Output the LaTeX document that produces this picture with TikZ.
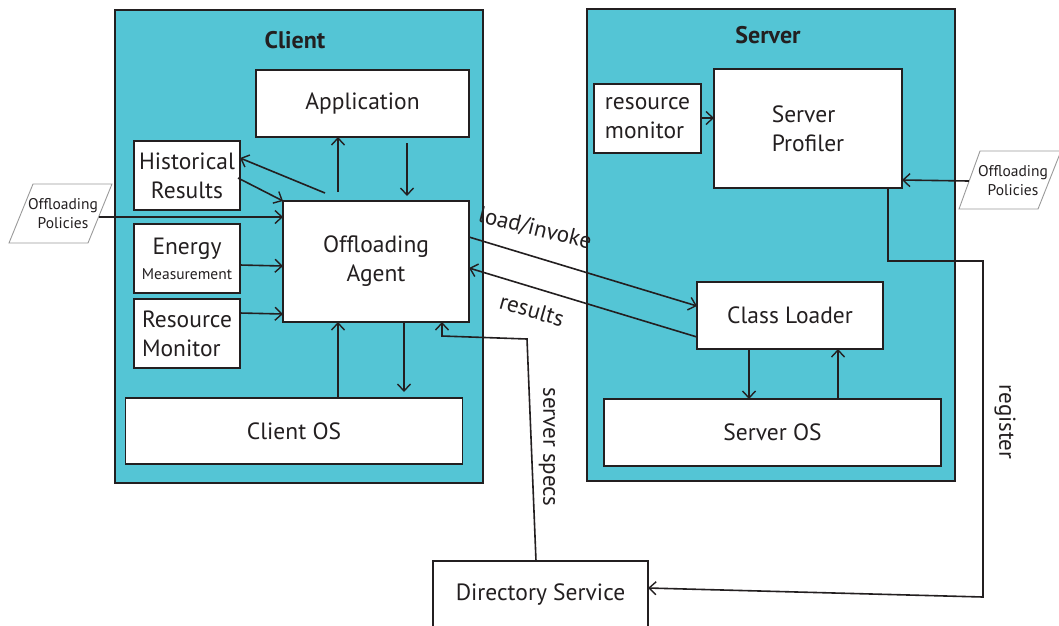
\documentclass[tikz,border=0pt]{standalone}
\usepackage{fontspec}
\setmainfont{PT Sans}
\usetikzlibrary{arrows.meta}
\definecolor{panel}{HTML}{54C5D5}
\definecolor{ink}{HTML}{231F20}
\definecolor{framegray}{HTML}{9A9A9A}

\begin{document}
\begin{tikzpicture}[x=1pt,y=-1pt,
  every node/.style={text=ink},
  panelbox/.style={draw=ink, fill=panel, line width=1.6pt, inner sep=0pt, outer sep=0pt},
  unit/.style={draw=ink, fill=white, line width=1.6pt, inner sep=0pt, outer sep=0pt,
               align=center, font=\fontsize{23.5}{29}\selectfont},
  flow/.style={draw=ink, line width=1.6pt,
               -{Straight Barb[length=7pt,width=13pt,line width=1.4pt]}},
  policyframe/.style={draw=framegray, line width=0.9pt, fill=white},
  policy/.style={font=\fontsize{15.5}{19}\selectfont, align=center, inner sep=0pt},
  tag/.style={font=\fontsize{23}{26}\selectfont, inner sep=0pt},
  title/.style={font=\bfseries\fontsize{24}{28}\selectfont, inner sep=0pt}
]
\path[use as bounding box, fill=white] (0,0) rectangle (1059,625);

% ---------- containers ----------
\node[panelbox, minimum width=368, minimum height=473] (client) at (299,246.5) {};
\node[panelbox, minimum width=368, minimum height=472] (server) at (771,245) {};
\node[title] (clienttitle) at (295,40) {Client};
\node[title] (servertitle) at (768,35) {Server};

% ---------- client side ----------
\node[unit, minimum width=213, minimum height=67] (app) at (362.5,103.5) {Application};
\node[unit, minimum width=106, minimum height=69] (hist) at (187,175.5) {Historical\\Results};
\node[unit, minimum width=106, minimum height=69] (energy) at (187,258.5)
  {Energy\\[-4pt]{\fontsize{15.5}{17}\selectfont Measurement}};
\node[unit, minimum width=106, minimum height=69, align=left] (resmon) at (187,333.5) {Resource\\Monitor};
\node[unit, minimum width=186, minimum height=121] (agent) at (376,261.5) {Offloading\\Agent};
\node[unit, minimum width=337, minimum height=66] (clientos) at (294,431) {Client OS};

% ---------- server side ----------
\node[unit, minimum width=107, minimum height=69, align=left] (srvres) at (647.5,118.5) {resource\\monitor};
\node[unit, minimum width=188, minimum height=119, align=left] (profiler) at (808,128.5) {Server\\Profiler};
\node[unit, minimum width=186, minimum height=67] (loader) at (790,315.5) {Class Loader};
\node[unit, minimum width=337, minimum height=67] (serveros) at (772.5,432.5) {Server OS};

% ---------- directory ----------
\node[unit, minimum width=215, minimum height=68] (directory) at (540.5,595) {Directory Service};

% ---------- policy inputs ----------
\draw[policyframe] (33,184) -- (112,184) -- (88,243) -- (9,243) -- cycle;
\node[policy] (pol1) at (63,214) {Offloading\\Policies};
\draw[policyframe] (980,151) -- (1061,151) -- (1038,209) -- (959,209) -- cycle;
\node[policy] (pol2) at (1013,181) {Offloading\\Policies};

% ---------- client connectors ----------
\coordinate (pol1out) at (99,217);
\draw[flow] (pol1out) -- (agent.west |- pol1out);
\draw[flow] (325,193) -- (hist.east |- 0,158);
\draw[flow] (238,178) -- (agent.north west);
\draw[flow] (energy.east |- 0,265) -- (agent.west |- 0,266);
\draw[flow] (resmon.east |- 0,313) -- (agent.west |- 0,314);
\draw[flow] (338,192) -- (app.south -| 338,0);
\draw[flow] (407,143) -- (407,196);
\draw[flow] (clientos.north -| 338,0) -- (agent.south -| 338,0);
\draw[flow] (agent.south -| 404,0) -- (404,392);

% ---------- client / server traffic ----------
\draw[flow] (agent.east |- 0,237) -- (loader.west |- 0,306);
\draw[flow] (loader.west |- 0,337) -- (agent.east |- 0,268);
\node[tag, rotate=-14] (loadlbl) at (535,229) {load/invoke};
\node[tag, rotate=-16] (reslbl) at (532,310) {results};

% ---------- server connectors ----------
\draw[flow] (srvres.east |- 0,118) -- (profiler.west |- 0,118);
\draw[flow] (pol2.west |- 0,181) ++(-9,0) -- (profiler.east |- 0,180);
\draw[flow] (loader.south -| 749,0) -- (serveros.north -| 749,0);
\draw[flow] (serveros.north -| 838,0) -- (loader.south -| 838,0);

% ---------- directory links ----------
\draw[flow] (directory.north -| 536,0) -- (527,339) -- (442,336) -- (agent.south -| 442,0);
\node[tag, rotate=-90] (specslbl) at (547,447) {server specs};
\draw[flow] (profiler.south -| 888,0) -- (888,261) -- (983,261) -- (983,597) -- (directory.east |- 0,588);
\node[tag, rotate=-90] (reglbl) at (1005,422) {register};
\end{tikzpicture}
\end{document}
